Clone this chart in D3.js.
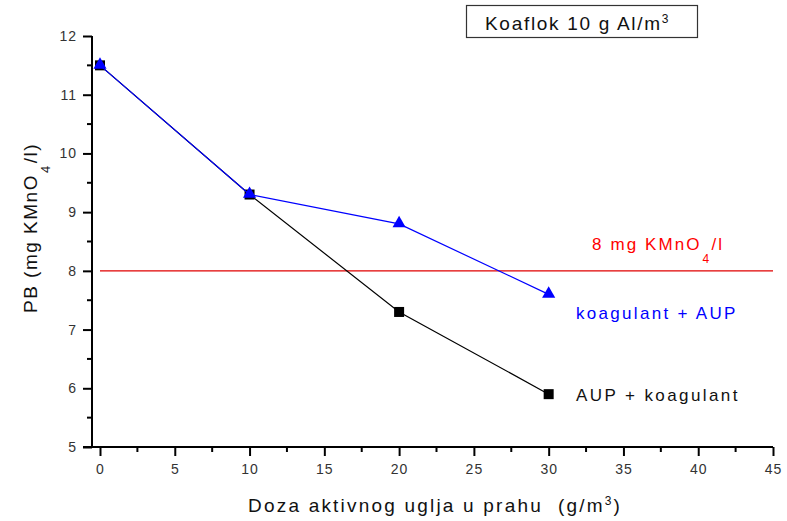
<!DOCTYPE html>
<html>
<head>
<meta charset="utf-8">
<script src="https://cdn.jsdelivr.net/npm/d3@7"></script>
<style>
  body { margin:0; background:#fff; }
  text { font-family: "Liberation Sans", Arial, sans-serif; white-space: pre; }
</style>
</head>
<body>
<div id="vis"></div>
<script>
// data
var doses = [0, 10, 20, 30]
var aupFirst = [11.5, 9.3, 7.3, 5.9]        // AUP + koagulant
var coagFirst = [11.5, 9.3, 8.8, 7.6]       // koagulant + AUP
var limitValue = 8
var xTicks = [0, 5, 10, 15, 20, 25, 30, 35, 40, 45]
var yTicks = [5, 6, 7, 8, 9, 10, 11, 12]

var width = 787, height = 521
var svg = d3.select("#vis").append("svg")
    .attr("width", width).attr("height", height)

var x = d3.scaleLinear().domain([0, 45]).range([100, 773])
var y = d3.scaleLinear().domain([5, 12]).range([447, 36])

//axes
var xAxis = d3.axisBottom(x).tickValues(xTicks).tickFormat(d3.format("d"))
    .tickSize(9).tickPadding(5).tickSizeOuter(0)
var gx = svg.append("g").attr("transform", "translate(0,447)").call(xAxis)
var xMinor = d3.range(2.5, 45, 5)
gx.selectAll(".minor").data(xMinor).enter().append("line")
    .attr("x1", function(d){ return x(d) }).attr("x2", function(d){ return x(d) })
    .attr("y1", 0).attr("y2", 5).attr("stroke", "#000").attr("stroke-width", 2)
gx.select(".domain").attr("d", "M83,0H773")

var yAxis = d3.axisLeft(y).tickValues(yTicks).tickFormat(d3.format("d"))
    .tickSize(9).tickPadding(6).tickSizeOuter(0)
var gy = svg.append("g").attr("transform", "translate(92,0)").call(yAxis)
var yMinor = d3.range(5.5, 12, 1)
gy.selectAll(".minor").data(yMinor).enter().append("line")
    .attr("y1", function(d){ return y(d) }).attr("y2", function(d){ return y(d) })
    .attr("x1", 0).attr("x2", -5).attr("stroke", "#000").attr("stroke-width", 2)
gy.select(".domain").attr("d", "M0,36V447")

svg.selectAll(".tick line").attr("stroke-width", 2)
svg.selectAll(".domain").attr("stroke-width", 2)
svg.selectAll(".tick text").attr("font-size", 14).attr("fill", "#333")
    .style("font-family", "'Liberation Sans', Arial, sans-serif").attr("letter-spacing", 1)
gx.selectAll(".tick text").attr("dy", "0.9em")

//limit line
svg.append("line").attr("x1", x(0)).attr("x2", x(45))
    .attr("y1", y(limitValue)).attr("y2", y(limitValue))
    .attr("stroke", "#e00000").attr("stroke-width", 1.2)

var line = d3.line()
    .x(function(d, i){ return x(doses[i]) })
    .y(function(d){ return y(d) })

//black series
svg.append("path").datum(aupFirst).attr("d", line)
    .attr("fill", "none").attr("stroke", "#000").attr("stroke-width", 1.2)
svg.selectAll(".sq").data(aupFirst).enter().append("rect")
    .attr("x", function(d, i){ return x(doses[i]) - 5 })
    .attr("y", function(d){ return y(d) - 5 })
    .attr("width", 10).attr("height", 10).attr("fill", "#000")

//blue series
svg.append("path").datum(coagFirst).attr("d", line)
    .attr("fill", "none").attr("stroke", "#0000ff").attr("stroke-width", 1.2)
var tri = d3.symbol().type(d3.symbolTriangle).size(75)
svg.selectAll(".tri").data(coagFirst).enter().append("path")
    .attr("d", tri)
    .attr("transform", function(d, i){ return "translate(" + x(doses[i]) + "," + (y(d) - 0.5) + ")" })
    .attr("fill", "#0000ff")

//labels
svg.append("text").attr("x", 576).attr("y", 319).attr("font-size", 17).attr("letter-spacing", 2.3)
    .attr("fill", "#0000ff").text("koagulant + AUP")
svg.append("text").attr("x", 576).attr("y", 401).attr("font-size", 17).attr("letter-spacing", 2.4)
    .attr("fill", "#111").text("AUP + koagulant")
var red = svg.append("text").attr("x", 592).attr("y", 250).attr("font-size", 17)
    .attr("letter-spacing", 2.1).attr("fill", "#ff0000")
red.append("tspan").text("8 mg KMnO")
red.append("tspan").attr("dx", 1).attr("dy", 13).attr("font-size", 12).text("4")
red.append("tspan").attr("dx", 0).attr("dy", -13).text("/l")

//title box
svg.append("rect").attr("x", 466.5).attr("y", 5.5).attr("width", 231).attr("height", 32)
    .attr("fill", "none").attr("stroke", "#333").attr("stroke-width", 1.2)
var t = svg.append("text").attr("x", 485).attr("y", 30).attr("font-size", 19)
    .attr("letter-spacing", 1.7).attr("fill", "#111")
t.append("tspan").text("Koaflok 10 g Al/m")
t.append("tspan").attr("font-size", 12).attr("dy", -7).text("3")

//axis titles
var xl = svg.append("text").attr("x", 248).attr("y", 512).attr("font-size", 19)
    .attr("letter-spacing", 2.2).attr("fill", "#111")
xl.append("tspan").text("Doza aktivnog uglja u prahu  (g/m")
xl.append("tspan").attr("font-size", 12).attr("dy", -7).text("3")
xl.append("tspan").attr("dy", 7).text(")")

var yl = svg.append("text").attr("transform", "translate(37,313) rotate(-90)")
    .attr("font-size", 19).attr("letter-spacing", 1.5).attr("fill", "#111")
yl.append("tspan").text("PB (mg KMnO")
yl.append("tspan").attr("dx", 1).attr("dy", 13).attr("font-size", 13).text("4")
yl.append("tspan").attr("dx", 1).attr("dy", -13).text("/l)")
</script>
</body>
</html>
